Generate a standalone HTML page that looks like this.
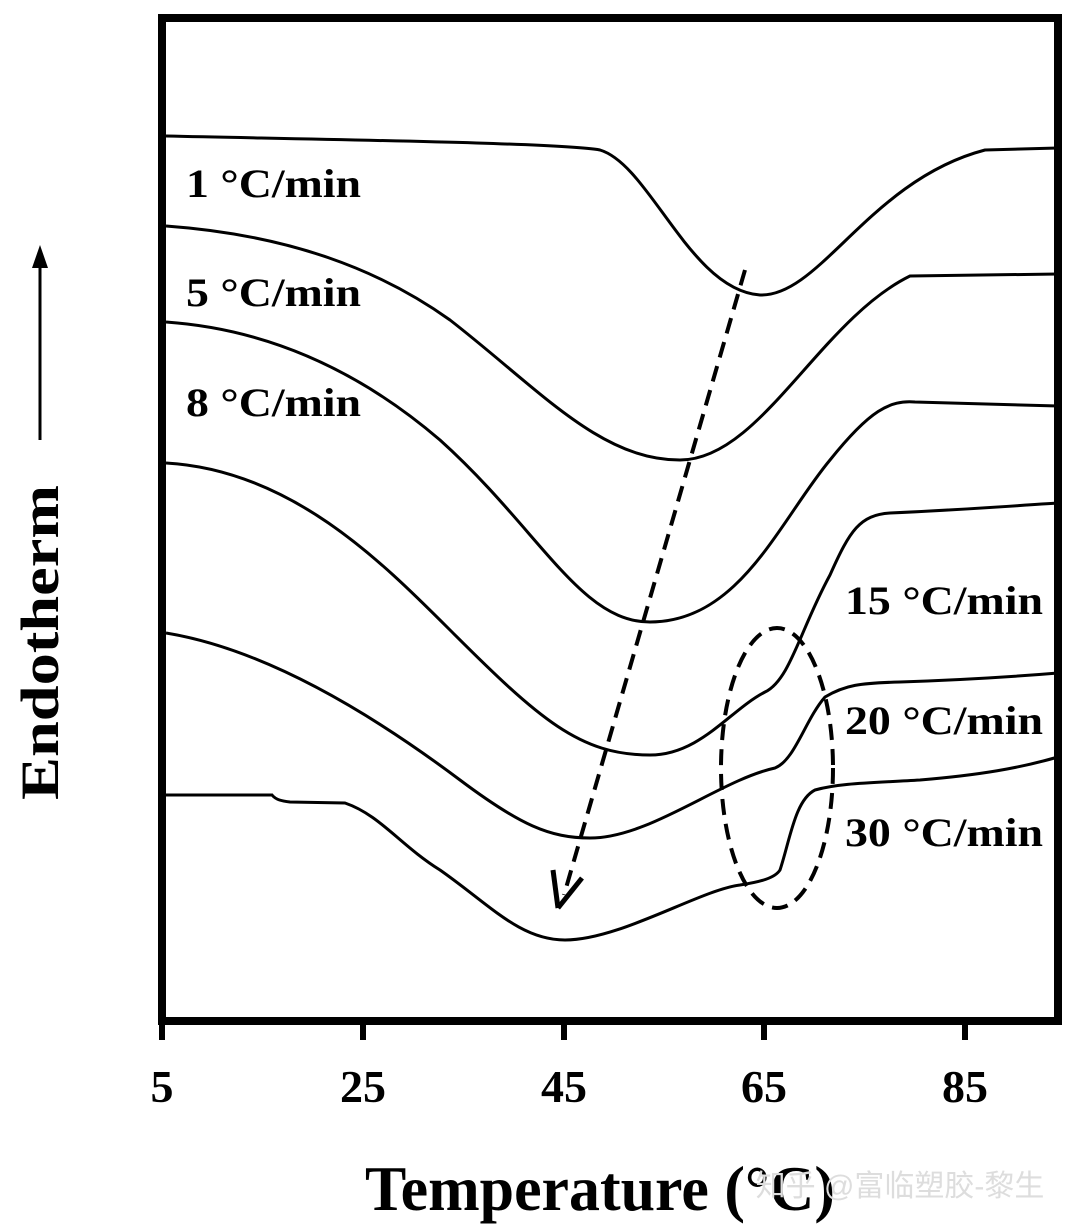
<!DOCTYPE html>
<html><head><meta charset="utf-8"><style>
html,body{margin:0;padding:0;background:#fff;}
svg{display:block;}
text{font-family:"Liberation Serif",serif;font-weight:bold;fill:#000;}
</style></head><body>
<svg width="1080" height="1229" viewBox="0 0 1080 1229" xmlns="http://www.w3.org/2000/svg">
<rect x="162" y="18" width="896" height="1003" fill="none" stroke="#000" stroke-width="8"/>
<g stroke="#000" stroke-width="6">
<line x1="162" y1="1021" x2="162" y2="1040"/>
<line x1="363" y1="1021" x2="363" y2="1040"/>
<line x1="564" y1="1021" x2="564" y2="1040"/>
<line x1="764" y1="1021" x2="764" y2="1040"/>
<line x1="965" y1="1021" x2="965" y2="1040"/>
</g>
<g font-size="46" text-anchor="middle">
<text x="162" y="1102">5</text>
<text x="363" y="1102">25</text>
<text x="564" y="1102">45</text>
<text x="764" y="1102">65</text>
<text x="965" y="1102">85</text>
</g>
<text x="365" y="1210" font-size="64" textLength="470" lengthAdjust="spacingAndGlyphs">Temperature (°C)</text>
<text x="900" y="1196" font-size="30" style="font-family:'Liberation Sans','Noto Sans CJK SC',sans-serif;font-weight:normal;fill:#ddd" text-anchor="middle">知乎 @富临塑胶-黎生</text>
<text transform="translate(58,800) rotate(-90)" font-size="54" textLength="315" lengthAdjust="spacingAndGlyphs">Endotherm</text>
<line x1="40" y1="440" x2="40" y2="255" stroke="#000" stroke-width="3"/>
<path d="M32,268 L40,245 L48,268 Z" fill="#000"/>
<g fill="none" stroke="#000" stroke-width="3">
<path d="M166,136 C350,140 560,143 600,150 C650,165 690,290 760,295 C820,297 870,180 985,150 L1058,148"/>
<path d="M166,226 C290,235 380,270 450,320 C540,390 600,460 680,460 C760,460 820,320 910,276 L1058,274"/>
<path d="M166,322 C280,330 370,380 440,440 C540,530 580,622 650,622 C740,622 780,520 830,460 C870,410 890,400 915,402 L1058,406"/>
<path d="M166,463 C290,470 380,560 450,630 C540,720 580,755 650,755 C700,755 730,710 765,692 C790,680 800,630 830,575 C850,530 860,515 890,513 C960,510 1010,506 1058,503"/>
<path d="M166,633 C270,650 380,720 460,780 C520,825 550,838 590,838 C650,838 720,780 775,768 C795,760 805,720 825,697 C845,685 860,683 900,682 C960,680 1010,677 1058,673"/>
<path d="M166,795 L272,795 C276,800 282,801 290,802 L345,803 C380,815 400,845 440,870 C490,905 520,940 565,940 C620,940 700,890 740,885 C760,882 775,878 780,870 C790,840 795,800 815,790 C840,783 870,783 920,780 C980,775 1020,768 1058,757"/>
</g>
<g fill="none" stroke="#000" stroke-width="4" stroke-dasharray="16,9">
<line x1="745" y1="270" x2="564" y2="895"/>
<ellipse cx="777" cy="768" rx="56" ry="140"/>
</g>
<g stroke="#000" stroke-width="5" fill="none">
<line x1="558" y1="908" x2="553" y2="870"/>
<line x1="558" y1="908" x2="582" y2="878"/>
</g>
<g font-size="40">
<text x="186" y="197" textLength="175" lengthAdjust="spacingAndGlyphs">1 °C/min</text>
<text x="186" y="306" textLength="175" lengthAdjust="spacingAndGlyphs">5 °C/min</text>
<text x="186" y="416" textLength="175" lengthAdjust="spacingAndGlyphs">8 °C/min</text>
<text x="845" y="614" textLength="198" lengthAdjust="spacingAndGlyphs">15 °C/min</text>
<text x="845" y="734" textLength="198" lengthAdjust="spacingAndGlyphs">20 °C/min</text>
<text x="845" y="846" textLength="198" lengthAdjust="spacingAndGlyphs">30 °C/min</text>
</g>
</svg>
</body></html>
